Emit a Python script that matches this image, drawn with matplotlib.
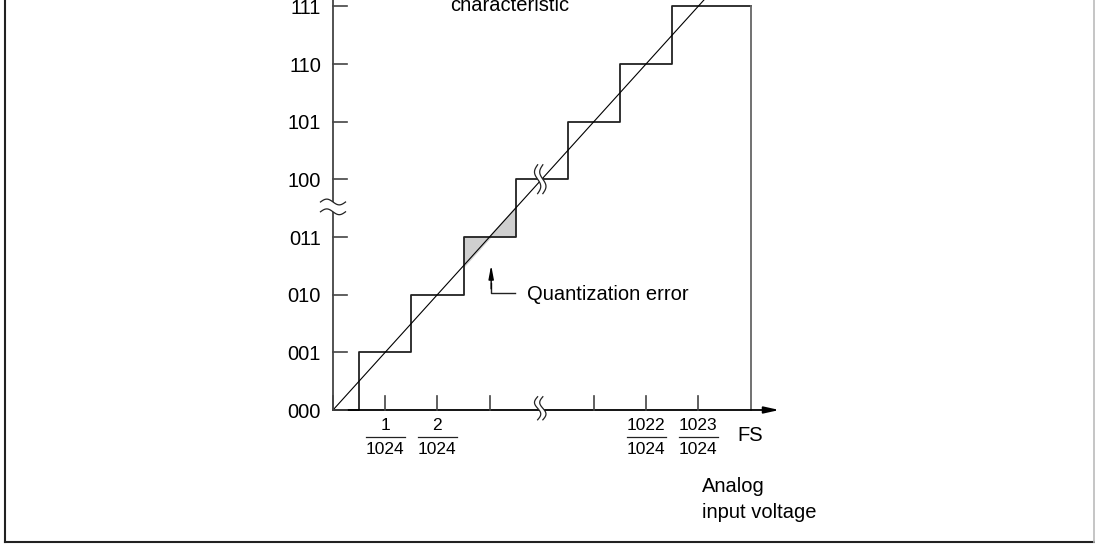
import numpy as np
import matplotlib
matplotlib.use("Agg")
import matplotlib.pyplot as plt
from matplotlib.lines import Line2D

plt.rcParams['font.family'] = ['Liberation Sans', 'DejaVu Sans']

# 出力コード (縦軸)
codes = ['000', '001', '010', '011', '100', '101', '110', '111']
# 階段の立ち上がり位置 (LSB単位), FS位置
risers = [0.5, 1.5, 2.5, 3.5, 4.5, 5.5, 6.5]
fs_pos = 8
# 横軸の目盛り位置と分数ラベル
xtick_pos = [0, 1, 2, 3, 5, 6, 7]
frac_pos = [1, 2, 6, 7]
frac_num = ['1', '2', '1022', '1023']
frac_den = '1024'
break_pos = 4
# 量子化誤差の影 (立ち上がり 2.5 -> 3.5)
err_lo, err_mid, err_hi = 2.5, 3, 3.5

# ピクセル -> データ座標の対応
X0, SX = 333, 52.2
Y0, SY = 410, 57.7
W, H = 1095, 544

fig = plt.figure(figsize=(W / 100, H / 100), dpi=100)
ax = fig.add_axes([0, 0, 1, 1])
ax.set_xlim(-X0 / SX, (W - X0) / SX)
ax.set_ylim(-(H - Y0) / SY, Y0 / SY)
ax.axis('off')

dark = '#222222'
axc = '#444444'

# 階段特性
sx, sy = [0], [0]
for i, r in enumerate(risers):
    sx += [r, r]
    sy += [i, i + 1]
sx += [fs_pos]
sy += [len(risers)]
ax.plot(sx, sy, color=dark, lw=1.3, zorder=3)
ax.plot([fs_pos, fs_pos], [0, len(risers)], color='#666666', lw=1.3, zorder=3)

# 理想特性 (直線)
ax.plot([0, 8], [0, 8], color='black', lw=0.8, zorder=3)

# 量子化誤差の影
ax.fill([err_lo, err_lo, err_mid], [err_lo, err_mid, err_mid], color='#cfcfcf', zorder=2)
ax.fill([err_mid, err_hi, err_hi], [err_mid, err_hi, err_mid], color='#cfcfcf', zorder=2)

# 軸
ax.plot([0, 0], [0, 7.3], color=axc, lw=1.3, zorder=3)
ax.annotate('', xy=(8.55, 0), xytext=(0, 0),
            arrowprops=dict(arrowstyle='-|>,head_length=0.9,head_width=0.2',
                            color='black', lw=1.3, shrinkA=0, shrinkB=0), zorder=3)

# 縦軸目盛りとラベル
for k, c in enumerate(codes):
    ax.plot([0, 0.27], [k, k], color=axc, lw=1.2, zorder=3)
    ax.text(-0.23, k - 0.04, c, ha='right', va='center', fontsize=14.5)

# 横軸目盛り
for p in xtick_pos:
    ax.plot([p, p], [0, 0.24], color=axc, lw=1.2, zorder=3)

# 分数ラベル
for p, n in zip(frac_pos, frac_num):
    ax.text(p, -0.27, n, ha='center', va='center', fontsize=12.5)
    ax.plot([p - 0.37, p + 0.37], [-0.47, -0.47], color=dark, lw=0.9)
    ax.text(p, -0.68, frac_den, ha='center', va='center', fontsize=12.5)
ax.text(fs_pos, -0.45, 'FS', ha='center', va='center', fontsize=14.5)

# 省略記号
t = np.linspace(0, 1, 40)


def vbreak(xc, yc, half_h, gap=0.1, amp=0.06):
    yy = yc - half_h + 2 * half_h * t
    xa = xc - gap / 2 + amp * np.sin(2 * np.pi * t)
    xb = xc + gap / 2 + amp * np.sin(2 * np.pi * t)
    ax.fill(np.r_[xa, xb[::-1]], np.r_[yy, yy[::-1]], color='white', zorder=5, lw=0)
    ax.plot(xa, yy, color=dark, lw=0.9, zorder=6)
    ax.plot(xb, yy, color=dark, lw=0.9, zorder=6)


def hbreak(xc, yc, half_w, gap=0.17, amp=0.05):
    xx = xc - half_w + 2 * half_w * t
    ya = yc - gap / 2 + amp * np.sin(2 * np.pi * t)
    yb = yc + gap / 2 + amp * np.sin(2 * np.pi * t)
    ax.fill(np.r_[xx, xx[::-1]], np.r_[ya, yb[::-1]], color='white', zorder=5, lw=0)
    ax.plot(xx, ya, color=dark, lw=0.9, zorder=6)
    ax.plot(xx, yb, color=dark, lw=0.9, zorder=6)


vbreak(break_pos - 0.03, 0.03, 0.2)
vbreak(break_pos - 0.03, 4.0, 0.25)
hbreak(0, 3.52, 0.24)

# 量子化誤差の注記
ax.plot([3.03, 3.03, 3.49], [2.2, 2.03, 2.03], color=dark, lw=1.0)
ax.annotate('', xy=(3.03, 2.51), xytext=(3.03, 2.1),
            arrowprops=dict(arrowstyle='-|>,head_length=0.8,head_width=0.15',
                            color='black', lw=1.0, shrinkA=0, shrinkB=0))
ax.text(3.72, 2.0, 'Quantization error', ha='left', va='center', fontsize=14.5)

# 上部タイトル (上端で切れている)
ax.text(3.39, 6.91, 'characteristic', ha='center', va='baseline', fontsize=14.5)

# 横軸名
ax.text(7.07, -1.334, 'Analog', ha='left', va='center', fontsize=14.5)
ax.text(7.07, -1.785, 'input voltage', ha='left', va='center', fontsize=14.5)

# 外枠
fig.add_artist(Line2D([4.5 / W, 4.5 / W], [1, (H - 541.5) / H], color='#222222', lw=1.5))
fig.add_artist(Line2D([4.5 / W, 1094 / W], [(H - 541.5) / H, (H - 541.5) / H], color='#222222', lw=1.5))
fig.add_artist(Line2D([1094 / W, 1094 / W], [1, (H - 541.5) / H], color='#bbbbbb', lw=1.2))

fig.savefig('out.png', dpi=100)
